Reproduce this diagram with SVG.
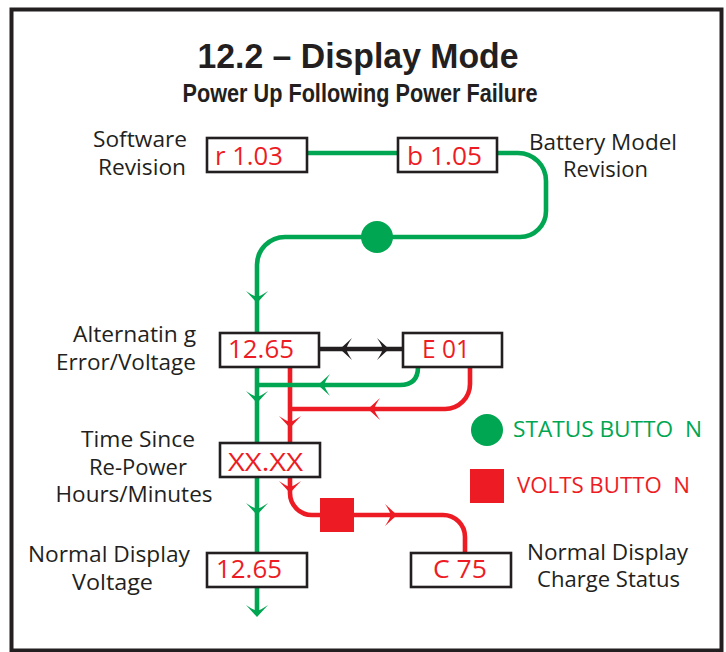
<svg xmlns="http://www.w3.org/2000/svg" width="726" height="652" viewBox="0 0 726 652">
<style>
.lbl{font-family:"Open Sans","Liberation Sans",sans-serif;font-size:21.5px;fill:#231F20}
.val{font-family:"Open Sans","Liberation Sans",sans-serif;font-size:26px;fill:#ED1C24}
.box{fill:#fff;stroke:#231F20;stroke-width:2.6}
.g{fill:none;stroke:#00A651;stroke-width:4.6}
.r{fill:none;stroke:#ED1C24;stroke-width:4.6}
.k{fill:none;stroke:#231F20;stroke-width:4.6}
.ttl{font-family:"Liberation Sans",Arial,sans-serif;font-weight:bold;fill:#231F20}
</style>
<defs>
<path id="arr" d="M0,0 L-12,-11 Q-6.5,-3 -6.5,0 Q-6.5,3 -12,11 Z"/>
</defs>
<rect x="11.5" y="9.5" width="710" height="641" fill="#fff" stroke="#231F20" stroke-width="4"/>
<g id="title">
<text class="ttl" x="358" y="68" font-size="35" text-anchor="middle" textLength="321" lengthAdjust="spacingAndGlyphs">12.2 – Display Mode</text>
<text class="ttl" x="360" y="102" font-size="26" text-anchor="middle" textLength="355" lengthAdjust="spacingAndGlyphs">Power Up Following Power Failure</text>
</g>
<g id="connectors">
<path class="g" d="M307,153 H398"/>
<path class="g" d="M497,153 H518 A28,28 0 0 1 546,181 V211 A26,26 0 0 1 520,237 H285 A28,28 0 0 0 257,265 V611"/>
<path class="r" d="M290,367 V443"/>
<path class="r" d="M470,367 V384 A25,25 0 0 1 445,409 H290"/>
<path class="g" d="M418,367 Q418,385 400,385 H257"/>
<path class="r" d="M290,477 V493 A22,22 0 0 0 312,515 H443 A22,22 0 0 1 465,537 V553"/>
<path class="k" d="M319,349 H403"/>
<use href="#arr" transform="translate(257,303) rotate(90)" fill="#00A651"/>
<use href="#arr" transform="translate(257,403) rotate(90)" fill="#00A651"/>
<use href="#arr" transform="translate(257,515) rotate(90)" fill="#00A651"/>
<use href="#arr" transform="translate(257,617) rotate(90)" fill="#00A651"/>
<use href="#arr" transform="translate(318,385) rotate(180)" fill="#00A651"/>
<use href="#arr" transform="translate(290,428) rotate(90)" fill="#ED1C24"/>
<use href="#arr" transform="translate(368,409) rotate(180)" fill="#ED1C24"/>
<use href="#arr" transform="translate(290,493) rotate(90)" fill="#ED1C24"/>
<use href="#arr" transform="translate(397,515)" fill="#ED1C24"/>
<use href="#arr" transform="translate(340,349) rotate(180)" fill="#231F20"/>
<use href="#arr" transform="translate(389,349)" fill="#231F20"/>
<circle cx="377" cy="237" r="16" fill="#00A651"/>
<rect x="320" y="498" width="34" height="34" fill="#ED1C24"/>
</g>
<g id="node-software">
<rect class="box" x="207" y="138" width="100" height="34"/>
<text class="val" x="215" y="165" textLength="68" lengthAdjust="spacingAndGlyphs">r 1.03</text>
<text class="lbl" x="140" y="147" text-anchor="middle" textLength="94" lengthAdjust="spacingAndGlyphs">Software</text>
<text class="lbl" x="142" y="175" text-anchor="middle" textLength="88" lengthAdjust="spacingAndGlyphs">Revision</text>
</g>
<g id="node-battery">
<rect class="box" x="398" y="138" width="99" height="34"/>
<text class="val" x="407" y="165" textLength="75" lengthAdjust="spacingAndGlyphs">b 1.05</text>
<text class="lbl" x="603" y="150" text-anchor="middle" textLength="148" lengthAdjust="spacingAndGlyphs">Battery Model</text>
<text class="lbl" x="605.5" y="177" text-anchor="middle" textLength="85" lengthAdjust="spacingAndGlyphs">Revision</text>
</g>
<g id="node-alt">
<rect class="box" x="220" y="333" width="99" height="34"/>
<text class="val" x="228" y="358" textLength="66" lengthAdjust="spacingAndGlyphs">12.65</text>
<text class="lbl" x="196" y="342" text-anchor="end" textLength="123" lengthAdjust="spacingAndGlyphs">Alternatin g</text>
<text class="lbl" x="196" y="370" text-anchor="end" textLength="140" lengthAdjust="spacingAndGlyphs">Error/Voltage</text>
</g>
<g id="node-error">
<rect class="box" x="403" y="333" width="99" height="34"/>
<text class="val" x="422" y="358" textLength="48" lengthAdjust="spacingAndGlyphs">E 01</text>
</g>
<g id="node-time">
<rect class="box" x="220" y="443" width="100" height="34"/>
<text class="val" x="228" y="471" textLength="75" lengthAdjust="spacingAndGlyphs">XX.XX</text>
<text class="lbl" x="138" y="447" text-anchor="middle" textLength="114" lengthAdjust="spacingAndGlyphs">Time Since</text>
<text class="lbl" x="138" y="475" text-anchor="middle" textLength="98" lengthAdjust="spacingAndGlyphs">Re-Power</text>
<text class="lbl" x="134" y="502" text-anchor="middle" textLength="157" lengthAdjust="spacingAndGlyphs">Hours/Minutes</text>
</g>
<g id="node-voltage">
<rect class="box" x="207" y="553" width="100" height="34"/>
<text class="val" x="216" y="578" textLength="66" lengthAdjust="spacingAndGlyphs">12.65</text>
<text class="lbl" x="109" y="562" text-anchor="middle" textLength="162" lengthAdjust="spacingAndGlyphs">Normal Display</text>
<text class="lbl" x="112.5" y="590" text-anchor="middle" textLength="81" lengthAdjust="spacingAndGlyphs">Voltage</text>
</g>
<g id="node-charge">
<rect class="box" x="411" y="553" width="100" height="34"/>
<text class="val" x="433" y="578" textLength="54" lengthAdjust="spacingAndGlyphs">C 75</text>
<text class="lbl" x="607.5" y="560" text-anchor="middle" textLength="161" lengthAdjust="spacingAndGlyphs">Normal Display</text>
<text class="lbl" x="608.5" y="587" text-anchor="middle" textLength="143" lengthAdjust="spacingAndGlyphs">Charge Status</text>
</g>
<g id="legend">
<circle cx="487" cy="430" r="16" fill="#00A651"/>
<text x="513" y="437" xml:space="preserve" style="font-family:'Open Sans','Liberation Sans',sans-serif;font-size:22px;fill:#00A651" textLength="189" lengthAdjust="spacingAndGlyphs">STATUS BUTTO  N</text>
<rect x="470" y="469" width="34" height="34" fill="#ED1C24"/>
<text x="517" y="493" xml:space="preserve" style="font-family:'Open Sans','Liberation Sans',sans-serif;font-size:22px;fill:#ED1C24" textLength="173" lengthAdjust="spacingAndGlyphs">VOLTS BUTTO  N</text>
</g>
</svg>
